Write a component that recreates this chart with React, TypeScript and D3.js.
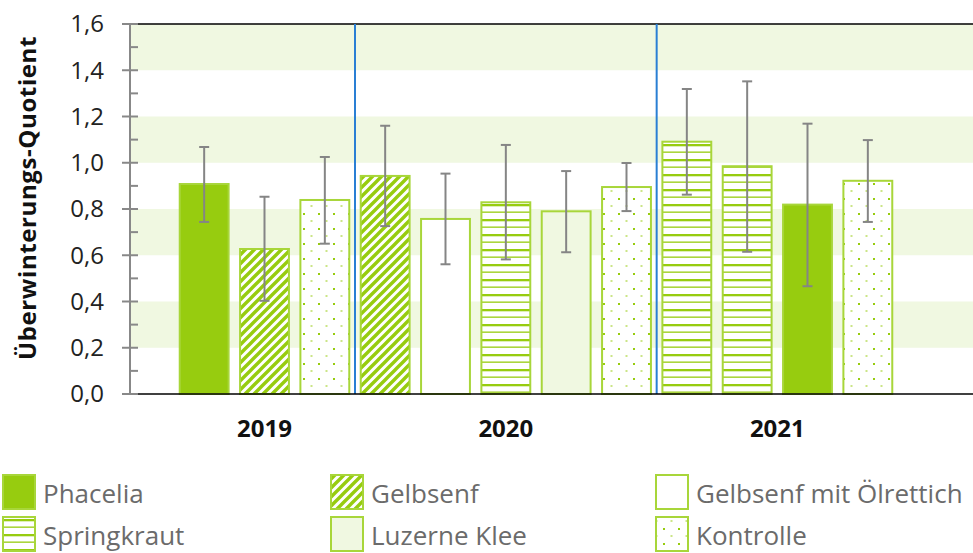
import React from "react";
import * as d3 from "d3";

// one entry per bar, left to right
const years = ["2019", "2019", "2019", "2020", "2020", "2020", "2020", "2020", "2021", "2021", "2021", "2021"];
const treatments = [
  "Phacelia", "Gelbsenf", "Kontrolle",
  "Gelbsenf", "Gelbsenf mit Ölrettich", "Springkraut", "Luzerne Klee", "Kontrolle",
  "Springkraut", "Springkraut", "Phacelia", "Kontrolle",
];
const values = [0.908, 0.627, 0.839, 0.943, 0.757, 0.829, 0.790, 0.895, 1.091, 0.985, 0.819, 0.922];
const errHigh = [1.068, 0.853, 1.025, 1.160, 0.953, 1.077, 0.964, 0.999, 1.319, 1.352, 1.169, 1.098];
const errLow = [0.744, 0.403, 0.650, 0.726, 0.561, 0.582, 0.613, 0.791, 0.862, 0.615, 0.466, 0.744];

const yearLabels = ["2019", "2020", "2021"];
const yTicks = [0, 0.2, 0.4, 0.6, 0.8, 1.0, 1.2, 1.4, 1.6];
const legendItems = ["Phacelia", "Gelbsenf", "Gelbsenf mit Ölrettich", "Springkraut", "Luzerne Klee", "Kontrolle"];

const GREEN = "#97cc0f";
const EDGE = "#a8d63a";
const PALE = "#f0f8e1";

const fillFor = (t: string) => {
  switch (t) {
    case "Phacelia": return GREEN;
    case "Gelbsenf": return "url(#hatch)";
    case "Gelbsenf mit Ölrettich": return "#ffffff";
    case "Springkraut": return "url(#hstripe)";
    case "Luzerne Klee": return PALE;
    default: return "url(#dots)";
  }
};

export default function App() {
  const width = 973, height = 553;
  const left = 130, right = 973, top = 24, bottom = 394;

  const y = d3.scaleLinear().domain([0, 1.6]).range([bottom, top]);
  const x = d3.scaleBand<number>()
    .domain(d3.range(values.length))
    .range([174, 898])
    .paddingInner(0.19)
    .paddingOuter(0.095);
  const bw = x.bandwidth();
  const gap = x.step() * 0.19;

  // boundaries between the year groups
  const seps = d3.range(1, years.length).filter(i => years[i] !== years[i - 1]).map(i => (x(i) as number) - gap / 2);
  const yearCenter = (yr: string) =>
    d3.mean(d3.range(years.length).filter(i => years[i] === yr), i => (x(i) as number) + bw / 2) as number;

  const font = "'Open Sans', sans-serif";
  const fmt = (v: number) => v.toFixed(1).replace(".", ",");

  const legendX = [2, 330, 655];
  const legendY = [474, 516];

  return (
    <svg width={width} height={height} style={{ position: "absolute", left: 0, top: 0, background: "#fff" }} fontFamily={font}>
      <defs>
        <pattern id="hatch" patternUnits="userSpaceOnUse" width="9" height="9">
          <rect width="9" height="9" fill="#fff" />
          <path d="M-2,2 L2,-2 M0,9 L9,0 M7,11 L11,7" stroke={GREEN} strokeWidth="3.4" />
        </pattern>
        <pattern id="hstripe" patternUnits="userSpaceOnUse" width="8" height="15" y={top}>
          <rect width="8" height="15" fill="#fff" />
          <rect y="0" width="8" height="2.3" fill={GREEN} />
          <rect y="7.5" width="8" height="1.3" fill={GREEN} />
        </pattern>
        <pattern id="dots" patternUnits="userSpaceOnUse" width="15" height="15" x="3" y="3">
          <rect width="15" height="15" fill="#fff" />
          <rect x="0" y="0" width="2" height="2" fill={GREEN} />
          <rect x="7.5" y="7.5" width="2" height="1" fill={GREEN} />
        </pattern>
      </defs>

      {/* alternating pale bands */}
      {yTicks.slice(1).filter((_, i) => i % 2 === 0).map(t => (
        <rect key={"b" + t} x={left} width={right - left} y={y(t + 0.2)} height={y(t) - y(t + 0.2)} fill={PALE} />
      ))}
      <line x1={left} x2={right} y1={top} y2={top} stroke="#000" strokeWidth={1.5} />

      {seps.map(s => (
        <line key={"s" + s} x1={s} x2={s} y1={top} y2={bottom} stroke="#2a7fd4" strokeWidth={2} />
      ))}

      {values.map((v, i) => (
        <rect key={"r" + i} x={x(i)} width={bw} y={y(v)} height={bottom - y(v)}
          fill={fillFor(treatments[i])} stroke={EDGE} strokeWidth={2} />
      ))}

      {values.map((v, i) => {
        const cx = (x(i) as number) + bw / 2;
        return (
          <g key={"e" + i} stroke="#858585" strokeWidth={2}>
            <line x1={cx} x2={cx} y1={y(errHigh[i])} y2={y(errLow[i])} />
            <line x1={cx - 5} x2={cx + 5} y1={y(errHigh[i])} y2={y(errHigh[i])} />
            <line x1={cx - 5} x2={cx + 5} y1={y(errLow[i])} y2={y(errLow[i])} />
          </g>
        );
      })}

      <line x1={left} x2={right} y1={bottom} y2={bottom} stroke="#000" strokeWidth={1.5} />

      {/* y axis */}
      <line x1={left} x2={left} y1={top} y2={bottom} stroke="#888" strokeWidth={2} />
      {yTicks.map(t => (
        <g key={"t" + t}>
          <line x1={left - 8} x2={left + 8} y1={y(t)} y2={y(t)} stroke="#888" strokeWidth={2} />
          <text x={104} y={y(t)} dy="0.35em" textAnchor="end" fontSize={24} fill="#222">{fmt(t)}</text>
        </g>
      ))}
      {yTicks.slice(1).map(t => (
        <line key={"m" + t} x1={left} x2={left + 8} y1={y(t - 0.1)} y2={y(t - 0.1)} stroke="#888" strokeWidth={2} />
      ))}
      <text transform={`translate(36,198) rotate(-90)`} textAnchor="middle"
        fontSize={24} fontWeight="bold" fill="#111" letterSpacing={0.6}>Überwinterungs-Quotient</text>

      {yearLabels.map(yr => (
        <text key={yr} x={yearCenter(yr)} y={437} textAnchor="middle" fontSize={24} fontWeight="bold" fill="#111">{yr}</text>
      ))}

      {/* legend */}
      {legendItems.map((name, i) => {
        const lx = legendX[i % 3], ly = legendY[Math.floor(i / 3)];
        return (
          <g key={"l" + name}>
            <rect x={lx + 1} y={ly + 1} width={32} height={34} fill={fillFor(name)} stroke={EDGE} strokeWidth={2} />
            <text x={lx + 41} y={ly + 29} fontSize={26} fill="#6b6b6b">{name}</text>
          </g>
        );
      })}
    </svg>
  );
}
